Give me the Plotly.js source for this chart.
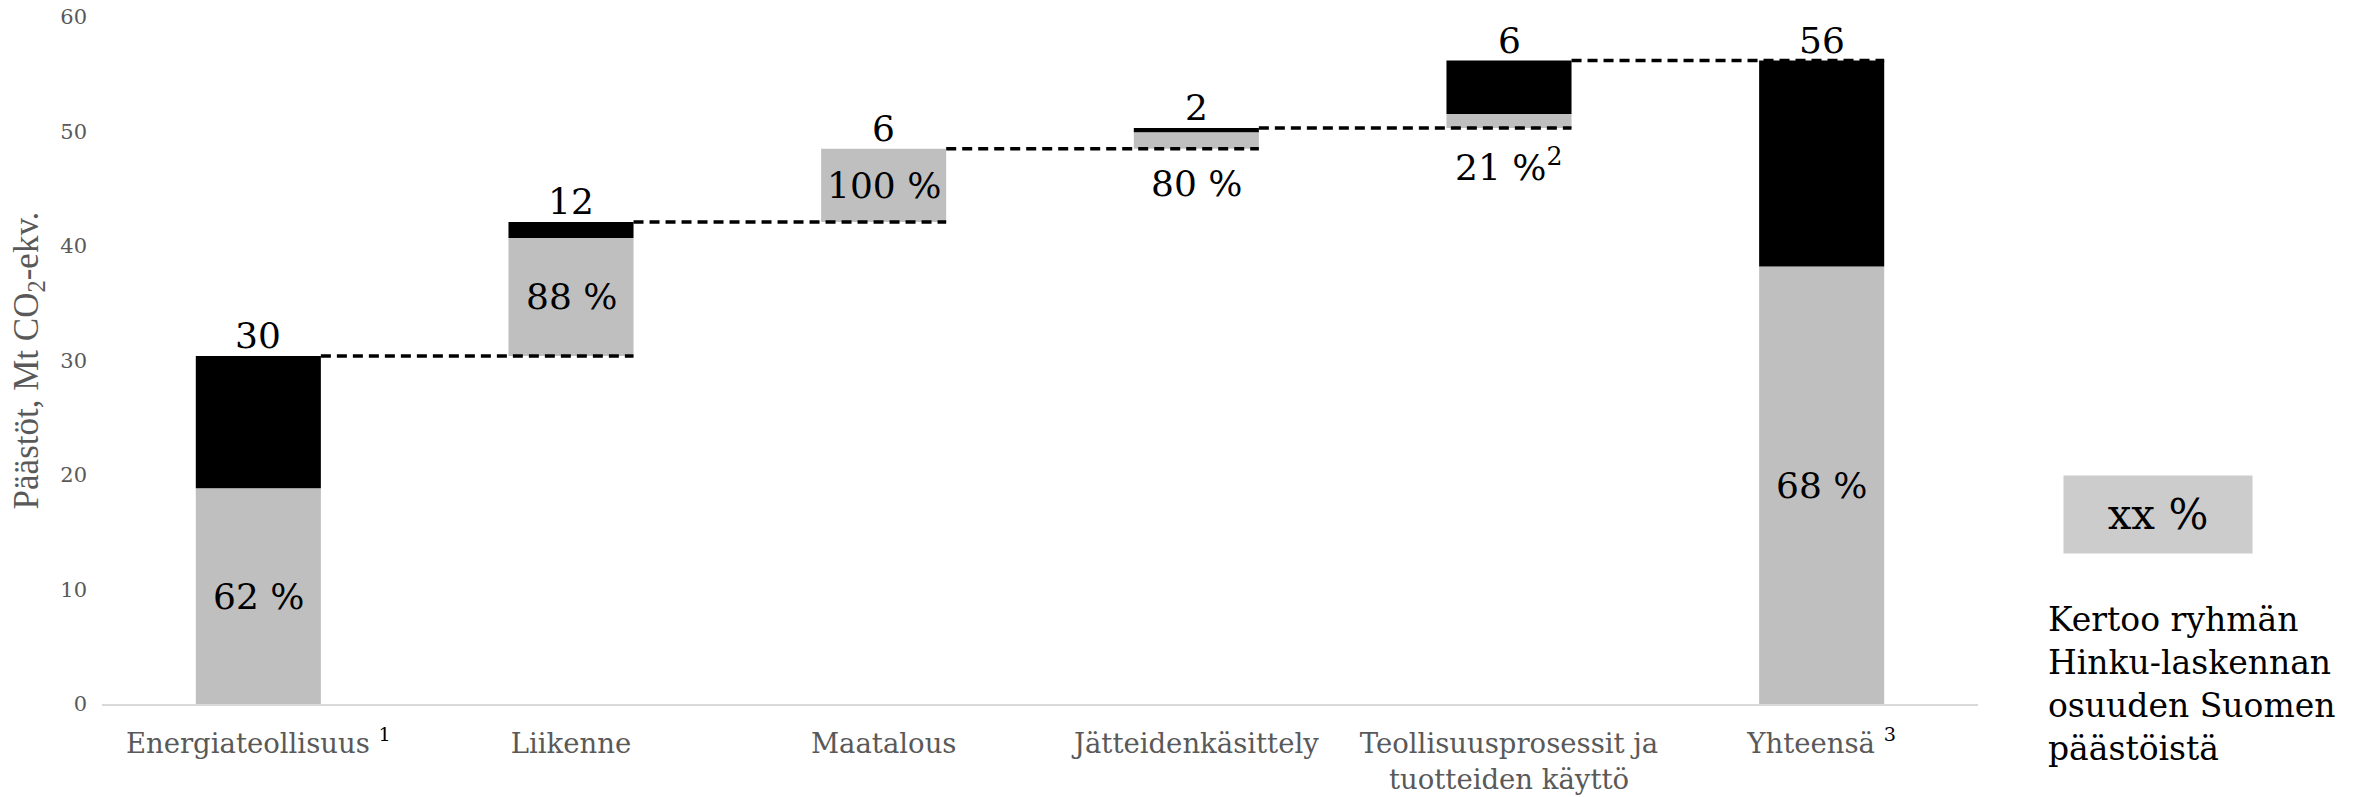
<!DOCTYPE html>
<html>
<head>
<meta charset="utf-8">
<script src="https://cdn.plot.ly/plotly-3.0.1.min.js"></script>
<style>html,body{margin:0;padding:0;background:#fff;}#chart{width:2353px;height:797px;}</style>
</head>
<body>
<div id="chart"></div>
<script>
// ---- data ----
const categories = ['Energiateollisuus', 'Liikenne', 'Maatalous', 'Jätteidenkäsittely', 'Teollisuusprosessit ja<br>tuotteiden käyttö', 'Yhteensä'];
const categoryNotes = ['1', '', '', '', '', '3'];
const emissions = [30.4, 11.7, 6.4, 1.8, 5.9, 56.2];      // Mt CO2-ekv.
const valueLabels = ['30', '12', '6', '2', '6', '56'];
const hinkuShare = [62, 88, 100, 80, 21, 68];              // %
const shareNotes = ['', '', '', '', '2', ''];
const isTotal = [false, false, false, false, false, true];
const yTicks = [0, 10, 20, 30, 40, 50, 60];

// ---- derived ----
const xs = categories.map((_, i) => i);
const bases = [];
let run = 0;
emissions.forEach((v, i) => {
  if (isTotal[i]) { bases.push(0); } else { bases.push(run); run += v; }
});
const grey = emissions.map((v, i) => v * hinkuShare[i] / 100);
const black = emissions.map((v, i) => v - grey[i]);
const blackBase = bases.map((b, i) => b + grey[i]);
const tops = bases.map((b, i) => b + emissions[i]);

const BW = 0.4;
const serif = 'DejaVu Serif, serif';

const traces = [
  { type: 'bar', x: xs, y: grey, base: bases, width: BW, marker: { color: '#bfbfbf', line: { width: 0 } }, hoverinfo: 'skip', showlegend: false },
  { type: 'bar', x: xs, y: black, base: blackBase, width: BW, marker: { color: '#000000', line: { width: 0 } }, hoverinfo: 'skip', showlegend: false }
];

const shapes = [];
for (let i = 0; i < emissions.length - 1; i++) {
  shapes.push({ type: 'line', xref: 'x', yref: 'y', x0: i + BW / 2, x1: i + 1 + BW / 2, y0: tops[i], y1: tops[i],
    line: { color: '#000', width: 3.5, dash: '10px,6px' }, layer: 'above' });
}

const annotations = [];
xs.forEach(i => {
  annotations.push({ x: i, y: tops[i], xref: 'x', yref: 'y', text: valueLabels[i], showarrow: false,
    xanchor: 'center', yanchor: 'bottom', yshift: -2, font: { family: serif, size: 36, color: '#000' } });
  const pxGrey = grey[i] * 687 / 60;
  const txt = hinkuShare[i] + ' %' + (shareNotes[i] ? '<sup>' + shareNotes[i] + '</sup>' : '');
  if (pxGrey > 50) {
    annotations.push({ x: i, y: bases[i] + grey[i] / 2, xref: 'x', yref: 'y', text: txt, showarrow: false,
      xanchor: 'center', yanchor: 'middle', font: { family: serif, size: 36, color: '#000' } });
  } else {
    annotations.push({ x: i, y: bases[i], xref: 'x', yref: 'y', text: txt, showarrow: false,
      xanchor: 'center', yanchor: 'top', yshift: -12, font: { family: serif, size: 36, color: '#000' } });
  }
});

// legend-like explanation
annotations.push({ xref: 'paper', yref: 'paper', x: 1.096, y: 0.2758, xanchor: 'center', yanchor: 'middle',
  text: 'xx %', showarrow: false, width: 186, height: 75, bgcolor: '#cccccc', align: 'center', valign: 'middle',
  font: { family: serif, size: 42, color: '#000' } });
annotations.push({ xref: 'paper', yref: 'paper', x: 1.0362, y: 0.155, xanchor: 'left', yanchor: 'top', align: 'left',
  text: 'Kertoo ryhmän<br>Hinku-laskennan<br>osuuden Suomen<br>päästöistä', showarrow: false,
  font: { family: serif, size: 33, color: '#000' } });

const tickText = categories.map((c, i) => categoryNotes[i] ? c + ' <span style="color:#000"><sup>' + categoryNotes[i] + '</sup></span>' : c);

const layout = {
  width: 2353, height: 797,
  margin: { l: 102, r: 375, t: 17, b: 93 },
  paper_bgcolor: '#fff', plot_bgcolor: '#fff',
  barmode: 'overlay',
  showlegend: false,
  xaxis: {
    range: [-0.5, 5.5], tickvals: xs, ticktext: tickText, showgrid: false, zeroline: false,
    showline: true, linecolor: '#d9d9d9', linewidth: 2, ticks: '',
    tickfont: { family: serif, size: 27.5, color: '#595959' }, ticklabelstandoff: 14
  },
  yaxis: {
    range: [0, 60], tickvals: yTicks, showgrid: false, zeroline: false, showline: false, ticks: '',
    tickfont: { family: serif, size: 21, color: '#595959' }, ticklabelstandoff: 14,
    title: { text: 'Päästöt, Mt CO<sub>2</sub>-ekv.', font: { family: 'Liberation Serif, serif', size: 35, color: '#595959' }, standoff: 11 }
  },
  shapes: shapes,
  annotations: annotations
};

Plotly.newPlot('chart', traces, layout, { staticPlot: true, displayModeBar: false });
</script>
</body>
</html>
